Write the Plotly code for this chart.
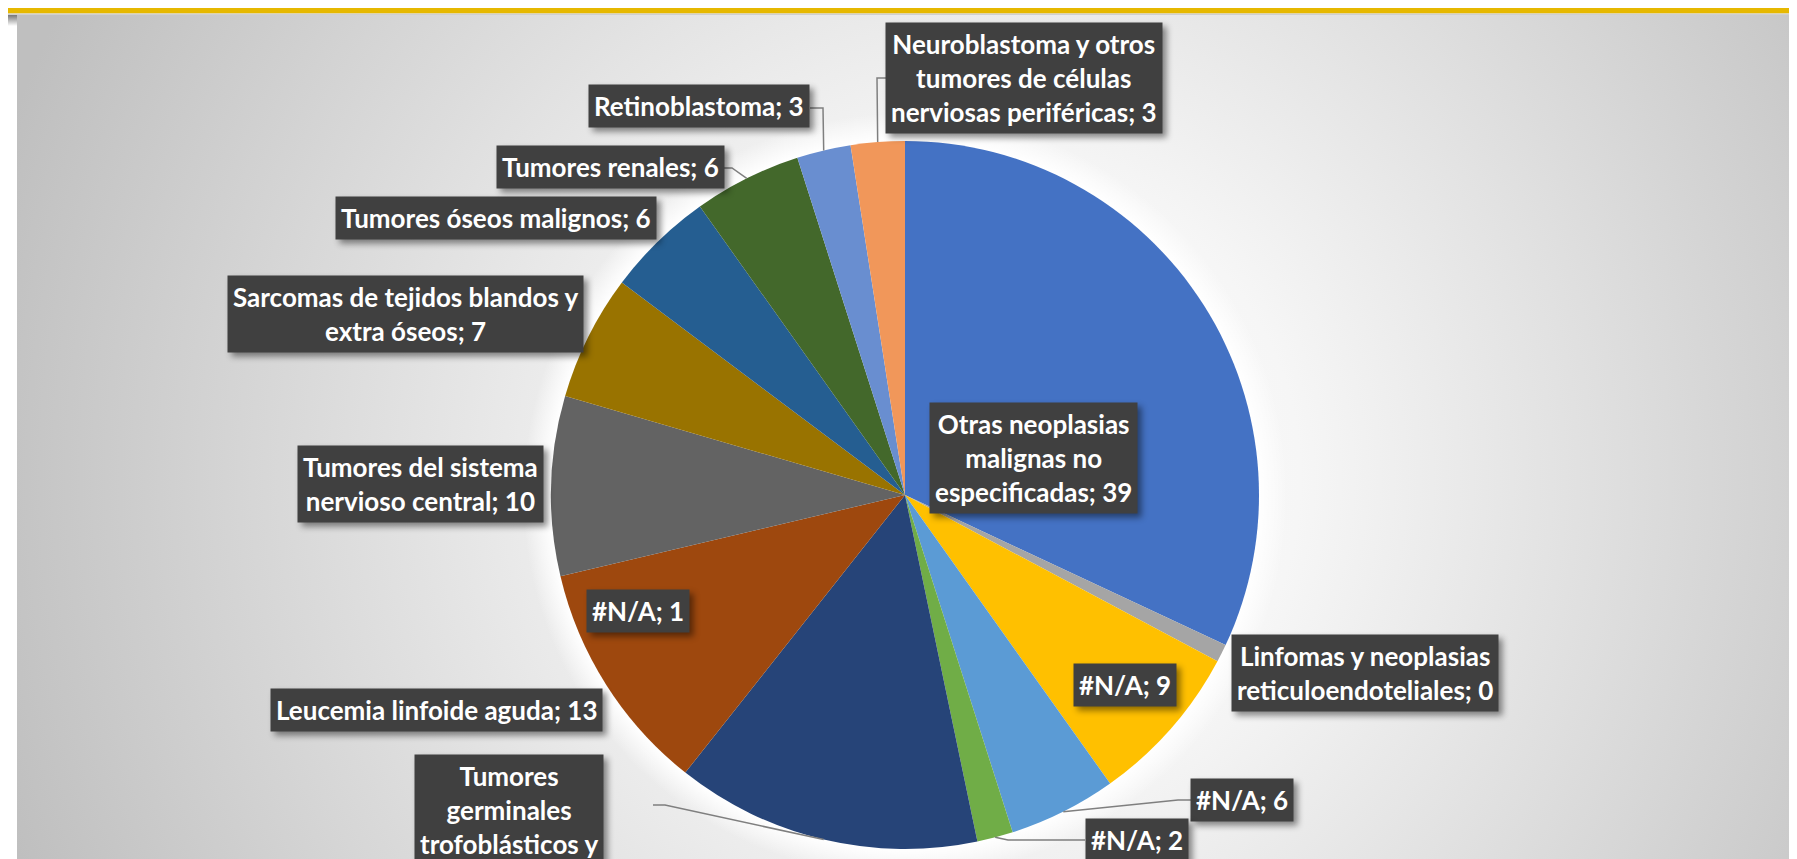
import base64
import math
import plotly.graph_objects as go

# ---------------- data ----------------
categories = [
    "Otras neoplasias malignas no especificadas",
    "Linfomas y neoplasias reticuloendoteliales",
    "#N/A",
    "#N/A",
    "#N/A",
    "#N/A",
    "Tumores germinales trofoblásticos y tumores de las gónadas",
    "Leucemia linfoide aguda",
    "Tumores del sistema nervioso central",
    "Sarcomas de tejidos blandos y extra óseos",
    "Tumores óseos malignos",
    "Tumores renales",
    "Retinoblastoma",
    "Neuroblastoma y otros tumores de células nerviosas periféricas",
]
values = [39, 0, 1, 9, 6, 2, 17, 13, 10, 7, 6, 6, 3, 3]
colors = ["#4472C4", "#ED7D31", "#A5A5A5", "#FFC000", "#5B9BD5", "#70AD47",
          "#264478", "#9E480E", "#636363", "#997300", "#255E91", "#43682B",
          "#698ED0", "#F1975A"]

# wrapped display of each label (Excel wrapping)
wrapped = [
    "Otras neoplasias<br>malignas no<br>especificadas",
    "Linfomas y neoplasias<br>reticuloendoteliales",
    "#N/A", "#N/A", "#N/A", "#N/A",
    "Tumores<br>germinales<br>trofoblásticos y<br>tumores de las<br>gónadas",
    "Leucemia linfoide aguda",
    "Tumores del sistema<br>nervioso central",
    "Sarcomas de tejidos blandos y<br>extra óseos",
    "Tumores óseos malignos",
    "Tumores renales",
    "Retinoblastoma",
    "Neuroblastoma y otros<br>tumores de células<br>nerviosas periféricas",
]

# ---------------- layout geometry (pixels) ----------------
W, H = 1797, 859
CX, CY, R = 897, 487, 354

# label box positions (center x, y, anchor)
label_pos = {
    0: (1025, 450, "middle"),
    1: (1357, 665, "middle"),
    2: (630, 603, "middle"),
    3: (1117, 677, "middle"),
    4: (1234, 792, "middle"),
    5: (1129, 832, "middle"),
    6: (501, 746, "top"),
    7: (428, 702, "middle"),
    8: (412, 476, "middle"),
    9: (397, 306, "middle"),
    10: (488, 210, "middle"),
    11: (602, 159, "middle"),
    12: (691, 98, "middle"),
    13: (1016, 70, "middle"),
}
# leader lines: slice index -> (box attach point, elbow point)
leaders = {
    13: ((880, 70), (869, 70)),
    12: ((802, 100), (815, 100)),
    11: ((713, 160), (724, 160)),
    4: ((1184, 792), (1170, 792)),
    5: ((1077, 832), (1000, 832)),
    6: ((645, 797), (657, 797)),
}


def px(x):
    return x / W


def py(y):
    return 1 - y / H


# slice mid-angles from data (clockwise from 12 o'clock)
total = sum(values)
mid_angle = []
acc = 0
for v in values:
    mid_angle.append((acc + v / 2) / total * 2 * math.pi)
    acc += v

# ---------------- background (radial gradient + glow) ----------------
svg = f'''<svg xmlns="http://www.w3.org/2000/svg" width="{W}" height="{H}" viewBox="0 0 {W} {H}">
<defs>
<radialGradient id="g" gradientUnits="userSpaceOnUse" cx="980" cy="470" r="1040">
<stop offset="0" stop-color="#ffffff"/>
<stop offset="0.3" stop-color="#f6f6f6"/>
<stop offset="1" stop-color="#bfbfbf"/>
</radialGradient>
<radialGradient id="glow" gradientUnits="userSpaceOnUse" cx="{CX}" cy="{CY}" r="{R + 28}">
<stop offset="{R / (R + 28):.3f}" stop-color="#ffffff" stop-opacity="1"/>
<stop offset="1" stop-color="#ffffff" stop-opacity="0"/>
</radialGradient>
<linearGradient id="corner" x1="0" y1="0" x2="0" y2="1">
<stop offset="0" stop-color="#6a6a6a"/>
<stop offset="1" stop-color="#ffffff"/>
</linearGradient>
</defs>
<rect x="0" y="0" width="{W}" height="{H}" fill="#ffffff"/>
<rect x="9" y="6" width="{W - 9}" height="{H - 6}" fill="url(#g)"/>
<circle cx="{CX}" cy="{CY}" r="{R + 28}" fill="url(#glow)"/>
<rect x="0" y="6" width="9" height="12" fill="url(#corner)"/>
<rect x="0" y="0" width="{W}" height="5.5" fill="#E6B800"/>
<rect x="0" y="5.5" width="{W}" height="1.5" fill="#cfcfcf"/>
</svg>'''
bg_uri = "data:image/svg+xml;base64," + base64.b64encode(svg.encode("utf-8")).decode("ascii")

fig = go.Figure()
fig.add_trace(go.Pie(
    labels=[f"{i}" for i in range(len(values))],   # unique ids so repeated "#N/A" are not merged
    hovertext=categories,
    values=values,
    marker=dict(colors=colors, line=dict(width=0)),
    sort=False,
    direction="clockwise",
    rotation=0,
    textinfo="none",
    hoverinfo="text+value",
    showlegend=False,
    domain=dict(x=[px(CX - R), px(CX + R)], y=[py(CY + R), py(CY - R)]),
))

FONT = "Lato, 'Open Sans', sans-serif"
FSIZE = 26
annotations = []
shapes = []

# leader lines
for i, (attach, elbow) in leaders.items():
    a = mid_angle[i]
    ex = CX + R * math.sin(a)
    ey = CY - R * math.cos(a)
    path = f"M {px(attach[0])},{py(attach[1])} L {px(elbow[0])},{py(elbow[1])} L {px(ex)},{py(ey)}"
    shapes.append(dict(type="path", xref="paper", yref="paper", path=path,
                       line=dict(color="#7f7f7f", width=1.5)))

for i, name in enumerate(wrapped):
    x, y, yanc = label_pos[i]
    annotations.append(dict(
        text=f"<b>{name}; {values[i]}</b>",
        x=px(x), y=py(y), xref="paper", yref="paper",
        xanchor="center", yanchor=yanc, showarrow=False,
        align="center", borderpad=5,
        font=dict(family=FONT, size=FSIZE, color="#ffffff"),
        bgcolor="#404040",
    ))

fig.update_layout(
    width=W, height=H,
    margin=dict(l=0, r=0, t=0, b=0),
    paper_bgcolor="#ffffff",
    plot_bgcolor="rgba(0,0,0,0)",
    images=[dict(source=bg_uri, xref="paper", yref="paper", x=0, y=1,
                 sizex=1, sizey=1, xanchor="left", yanchor="top",
                 sizing="stretch", layer="below")],
    shapes=shapes,
    annotations=annotations,
)

# soft drop shadow under the label boxes (as in the original)
shadow_js = """
document.querySelectorAll('.annotation rect.bg').forEach(function(r){
  r.style.filter = 'drop-shadow(4px 4px 3px rgba(0,0,0,0.45))';
});
"""
fig.write_html("out.html", post_script=shadow_js)
